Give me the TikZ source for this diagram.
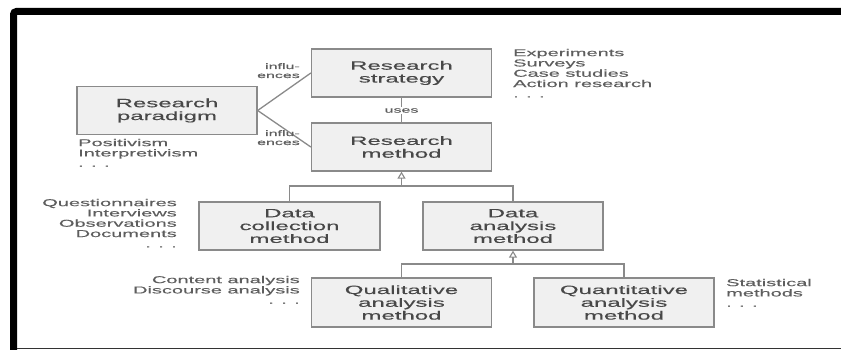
\documentclass[tikz,border=0pt]{standalone}
\usepackage{fontspec}
\newfontfamily\wf[FakeStretch=2.0,FakeBold=0.3]{Liberation Sans}
\usetikzlibrary{arrows.meta}
\definecolor{bx}{HTML}{F0F0F0}
\definecolor{bd}{HTML}{8A8A8A}
\definecolor{tx}{HTML}{484848}
\definecolor{lt}{HTML}{5E5E5E}
\tikzset{
 box/.style={draw=bd, fill=bx, line width=1.3pt, minimum width=180pt, minimum height=48pt, inner sep=0pt, align=center, text=tx, font=\wf\fontsize{12}{12.8}\selectfont},
 note/.style={text=lt, font=\wf\fontsize{10}{10.3}\selectfont, inner sep=0pt},
 lbl/.style={text=lt, font=\wf\fontsize{8}{9}\selectfont, inner sep=0pt},
 conn/.style={draw=bd, line width=1.3pt},
 gen/.style={conn, -{Triangle[open, width=8pt, length=7pt, line width=1.1pt]}},
}
\begin{document}
\begin{tikzpicture}[x=1pt,y=-1pt]
\useasboundingbox (0,0) rectangle (841,350);
% frame
\draw[line width=7pt, rounded corners=3pt] (13.5,350) -- (13.5,11.5) -- (841,11.5);
\draw[line width=1.5pt, black!80] (17,348.5) -- (841,348.5);

% boxes
\node[box] (strat) at (401.5,73) {Research\\strategy};
\node[box] (para) at (167,110.5) {Research\\paradigm};
\node[box] (meth) at (401.5,147) {Research\\method};
\node[box, minimum width=181pt] (dcol) at (289.5,226) {Data\\collection\\method};
\node[box] (dana) at (513,226) {Data\\analysis\\method};
\node[box, minimum height=49pt] (qual) at (401.5,302.5) {Qualitative\\analysis\\method};
\node[box, minimum height=49pt] (quant) at (624,302.5) {Quantitative\\analysis\\method};

% connectors
\draw[conn] (para.east) -- (strat.west);
\draw[conn] (para.east) -- (meth.west);
\draw[conn] (strat.south) -- (meth.north);
\node[lbl, fill=white, inner sep=1pt] (uses) at (401.5,110.5) {uses};
\node[lbl, anchor=north east, align=right] (inf1) at (300,63) {influ-\\ences};
\node[lbl, anchor=north east, align=right] (inf2) at (300,130) {influ-\\ences};

\coordinate (j1) at (401.5,186);
\draw[conn] (dcol.north) |- (j1) -| (dana.north);
\draw[gen] (j1) -- (meth.south);
\coordinate (j2) at (513,264);
\draw[conn] (qual.north) |- (j2) -| (quant.north);
\draw[gen] (j2) -- (dana.south);

% notes
\node[note, anchor=north west, align=left] (n1) at (513,48.7) {Experiments\\Surveys\\Case studies\\Action research\\. . .};
\node[note, anchor=north west, align=left] (n2) at (78,138.7) {Positivism\\Interpretivism\\. . .};
\node[note, anchor=north east, align=right] (n3) at (177,198.7) {Questionnaires\\Interviews\\Observations\\Documents\\. . .};
\node[note, anchor=north east, align=right] (n4) at (300,275.7) {Content analysis\\Discourse analysis\\. . .};
\node[note, anchor=north west, align=left] (n5) at (726,278.7) {Statistical\\methods\\. . .};
\end{tikzpicture}
\end{document}
